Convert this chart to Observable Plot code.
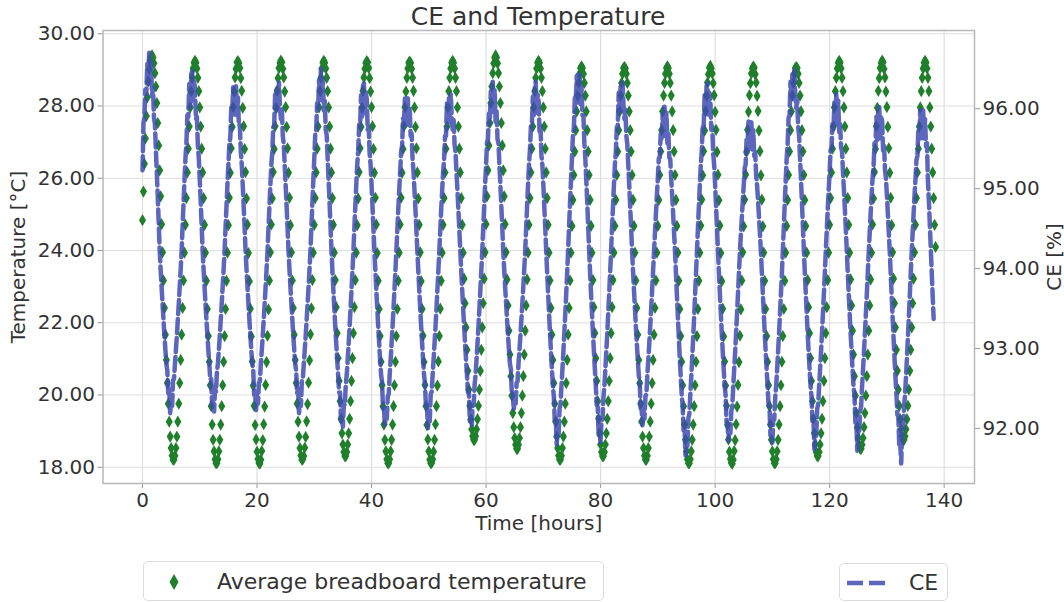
<!DOCTYPE html>
<html><head><meta charset="utf-8">
<script src="https://cdn.jsdelivr.net/npm/d3@7"></script>
<script src="https://cdn.jsdelivr.net/npm/@observablehq/plot@0.6"></script>
<style>
body{margin:0;background:#fff;font-family:"DejaVu Sans",sans-serif;}
#wrap{position:relative;width:1064px;height:602px;overflow:hidden;}
#chart{position:absolute;left:0;top:0;}
#title{position:absolute;left:102px;width:872px;top:2px;text-align:center;font-size:25px;color:#333;line-height:30px;}
.legend{position:absolute;box-sizing:border-box;border:1px solid #dcdcdc;border-radius:5px;background:#fff;font-size:22px;color:#333;}
.legend span{position:absolute;top:50%;transform:translateY(-50%);white-space:nowrap;}
.legend svg{position:absolute;}
</style></head><body>
<div id="wrap">
  <div id="chart"></div>
  <div id="title">CE and Temperature</div>
  <div class="legend" id="leg1" style="left:143px;top:561px;width:461px;height:40px;">
    <svg width="14" height="20" style="left:23px;top:10px;"><polygon points="7,2 11.5,10 7,18 2.5,10" fill="#1f7f2a"/></svg>
    <span style="left:73px;">Average breadboard temperature</span>
  </div>
  <div class="legend" id="leg2" style="left:839px;top:563px;width:109px;height:38px;">
    <svg width="44" height="10" style="left:6px;top:14px;"><line x1="1" y1="5" x2="42" y2="5" stroke="#3f4bb0" stroke-opacity="0.85" stroke-width="4.5" stroke-dasharray="16,6"/></svg>
    <span style="left:69px;">CE</span>
  </div>
</div>
<script>
// ---- data (both series sampled every 10 minutes from t = 0) ----
const sampleMinutes = 10;
const temperature = [
// cycle 1
24.84,25.63,26.40,27.10,27.72,28.24,28.68,29.02,29.25,29.37,29.40,29.34,29.18,28.91,28.54,28.08,27.53,26.91,26.22,25.50,24.73,23.95,23.17,22.41,21.67,20.97,20.33,19.76,19.26,18.85,18.53,18.32,18.21,18.21,18.32,18.53,18.85,19.26,19.76,20.33,20.97,21.67,22.41,23.17,23.94,
// cycle 2
24.71,25.45,26.16,26.82,27.43,27.96,28.41,28.78,29.04,29.20,29.25,29.20,29.04,28.78,28.41,27.96,27.43,26.82,26.16,25.45,24.71,23.94,23.16,22.38,21.63,20.92,20.27,19.69,19.18,18.76,18.44,18.22,18.11,18.11,18.22,18.44,18.76,19.18,19.69,20.27,20.92,21.63,22.38,23.16,23.94,
// cycle 3
24.70,25.46,26.15,26.83,27.42,27.97,28.40,28.79,29.03,29.21,29.24,29.19,29.05,28.77,28.42,27.95,27.44,26.81,26.17,25.44,24.72,23.93,23.15,22.39,21.62,20.93,20.26,19.70,19.17,18.77,18.43,18.23,18.12,18.10,18.21,18.45,18.75,19.19,19.68,20.28,20.91,21.64,22.37,23.17,23.95,
// cycle 4
24.72,25.44,26.17,26.81,27.44,27.95,28.42,28.77,29.05,29.19,29.26,29.21,29.03,28.79,28.40,27.97,27.42,26.83,26.15,25.46,24.70,23.95,23.17,22.41,21.67,20.97,20.33,19.76,19.26,18.85,18.53,18.32,18.21,18.22,18.31,18.54,18.84,19.27,19.75,20.34,20.96,21.68,22.40,23.18,23.94,
// cycle 5
24.71,25.45,26.16,26.82,27.43,27.96,28.41,28.78,29.04,29.20,29.25,29.20,29.04,28.78,28.41,27.96,27.43,26.82,26.16,25.45,24.71,23.94,23.18,22.43,21.71,21.02,20.39,19.83,19.34,18.94,18.63,18.42,18.31,18.31,18.42,18.63,18.94,19.34,19.83,20.39,21.02,21.71,22.43,23.18,23.94,
// cycle 6
24.70,25.44,26.17,26.83,27.42,27.95,28.42,28.79,29.03,29.19,29.24,29.21,29.05,28.77,28.40,27.97,27.44,26.81,26.15,25.46,24.72,23.93,23.16,22.38,21.63,20.92,20.27,19.69,19.18,18.76,18.44,18.22,18.11,18.11,18.22,18.44,18.76,19.18,19.69,20.27,20.92,21.63,22.38,23.16,23.94,
// cycle 7
24.72,25.46,26.15,26.81,27.44,27.96,28.40,28.78,29.04,29.20,29.23,29.19,29.03,28.78,28.42,27.96,27.42,26.83,26.16,25.44,24.71,23.95,23.15,22.38,21.64,20.91,20.28,19.69,19.17,18.77,18.44,18.21,18.11,18.12,18.22,18.43,18.76,19.19,19.69,20.26,20.93,21.63,22.39,23.16,23.94,
// cycle 8
24.71,25.45,26.16,26.82,27.43,27.96,28.41,28.78,29.04,29.20,29.25,29.20,29.04,28.78,28.41,27.96,27.43,26.82,26.16,25.45,24.71,23.94,23.22,22.54,21.87,21.25,20.67,20.15,19.70,19.33,19.05,18.86,18.76,18.76,18.86,19.05,19.33,19.70,20.15,20.67,21.25,21.87,22.54,23.22,23.95,
// cycle 9
24.73,25.50,26.22,26.91,27.53,28.08,28.54,28.91,29.18,29.34,29.40,29.34,29.18,28.91,28.54,28.08,27.53,26.91,26.22,25.50,24.73,23.95,23.20,22.48,21.78,21.12,20.52,19.98,19.50,19.11,18.81,18.62,18.51,18.51,18.62,18.81,19.11,19.50,19.98,20.52,21.12,21.78,22.48,23.20,23.94,
// cycle 10
24.71,25.45,26.16,26.82,27.43,27.96,28.41,28.78,29.04,29.20,29.25,29.20,29.04,28.78,28.41,27.96,27.43,26.82,26.16,25.45,24.71,23.94,23.17,22.41,21.67,20.97,20.33,19.76,19.26,18.85,18.53,18.32,18.21,18.21,18.32,18.53,18.85,19.26,19.76,20.33,20.97,21.67,22.41,23.17,23.94,
// cycle 11
24.68,25.40,26.09,26.74,27.33,27.85,28.29,28.64,28.89,29.05,29.10,29.05,28.89,28.64,28.29,27.85,27.33,26.74,26.09,25.40,24.68,23.94,23.18,22.43,21.71,21.02,20.39,19.83,19.34,18.94,18.63,18.42,18.31,18.31,18.42,18.63,18.94,19.34,19.83,20.39,21.02,21.71,22.43,23.18,23.94,
// cycle 12
24.68,25.40,26.09,26.74,27.33,27.85,28.29,28.64,28.89,29.05,29.08,29.04,28.89,28.64,28.29,27.85,27.33,26.74,26.09,25.40,24.68,23.94,23.17,22.41,21.67,20.97,20.33,19.76,19.26,18.85,18.53,18.32,18.21,18.21,18.32,18.53,18.85,19.26,19.76,20.33,20.97,21.67,22.41,23.17,23.94,
// cycle 13
24.68,25.40,26.09,26.74,27.33,27.85,28.29,28.64,28.89,29.05,29.10,29.05,28.89,28.64,28.29,27.85,27.33,26.74,26.09,25.40,24.68,23.94,23.16,22.38,21.63,20.92,20.27,19.69,19.18,18.76,18.44,18.22,18.11,18.11,18.22,18.44,18.76,19.18,19.69,20.27,20.92,21.63,22.38,23.16,23.94,
// cycle 14
24.69,25.41,26.08,26.75,27.32,27.86,28.28,28.65,28.88,29.06,29.11,29.04,28.90,28.63,28.30,27.84,27.34,26.73,26.10,25.39,24.69,23.93,23.15,22.39,21.62,20.93,20.26,19.70,19.17,18.77,18.43,18.23,18.12,18.10,18.21,18.45,18.75,19.19,19.68,20.28,20.91,21.64,22.37,23.17,23.95,
// cycle 15
24.67,25.41,26.10,26.73,27.34,27.84,28.30,28.63,28.90,29.04,29.09,29.06,28.88,28.65,28.28,27.86,27.32,26.75,26.08,25.41,24.67,23.94,23.16,22.38,21.63,20.92,20.27,19.69,19.18,18.76,18.44,18.22,18.11,18.11,18.22,18.44,18.76,19.18,19.69,20.27,20.92,21.63,22.38,23.16,23.94,
// cycle 16
24.68,25.40,26.09,26.74,27.33,27.85,28.29,28.64,28.89,29.05,29.08,29.05,28.89,28.64,28.29,27.85,27.33,26.74,26.09,25.40,24.68,23.94,23.18,22.43,21.71,21.02,20.39,19.83,19.34,18.94,18.63,18.42,18.31,18.31,18.42,18.63,18.94,19.34,19.83,20.39,21.02,21.71,22.43,23.18,23.94,
// cycle 17
24.71,25.45,26.16,26.82,27.43,27.96,28.41,28.78,29.04,29.20,29.25,29.20,29.04,28.78,28.41,27.96,27.43,26.82,26.16,25.45,24.71,23.94,23.20,22.48,21.78,21.12,20.52,19.98,19.50,19.11,18.81,18.62,18.51,18.51,18.62,18.81,19.11,19.50,19.98,20.52,21.12,21.78,22.48,23.20,23.94,
// cycle 18
24.72,25.44,26.17,26.81,27.44,27.95,28.42,28.77,29.05,29.19,29.26,29.21,29.03,28.79,28.40,27.97,27.42,26.83,26.15,25.46,24.70,23.95,23.22,22.54,21.87,21.25,20.67,20.15,19.70,19.33,19.05,18.86,18.76,18.76,18.86,19.05,19.33,19.70,20.15,20.67,21.25,21.87,22.54,23.22,23.95,
// cycle 19 (partial)
24.71,25.45,26.16,26.82,27.43,27.96,28.41,28.78,29.04,29.20,29.25,29.20,29.04,28.78,28.41,27.96,27.43,26.82,26.16,25.45,24.71,24.10
];
const ce = [
// cycle 1
95.23,95.82,95.89,96.24,96.19,96.56,96.33,96.70,96.31,96.58,96.16,96.27,95.89,95.81,95.49,95.20,94.89,94.57,94.23,93.99,93.77,93.56,93.36,93.16,92.98,92.81,92.72,92.44,92.50,92.19,92.34,92.28,92.60,92.62,92.81,92.98,93.16,93.36,93.56,93.77,93.99,94.23,94.53,
// cycle 2
94.83,95.11,95.38,95.57,95.92,95.90,96.31,96.04,96.43,96.47,96.08,96.34,96.26,95.87,95.90,95.54,95.38,95.11,94.83,94.53,94.23,93.99,93.77,93.56,93.36,93.16,92.98,92.81,92.61,92.62,92.28,92.35,92.21,92.50,92.46,92.71,92.81,92.98,93.16,93.36,93.56,93.77,93.99,94.22,94.51,
// cycle 3
94.78,95.05,95.30,95.56,95.64,96.01,95.97,96.27,95.93,96.25,96.28,95.92,96.14,95.79,95.80,95.47,95.30,95.05,94.78,94.51,94.22,93.99,93.77,93.56,93.36,93.16,92.98,92.81,92.74,92.42,92.44,92.23,92.41,92.31,92.57,92.59,92.81,92.98,93.16,93.36,93.56,93.77,93.99,94.22,94.51,
// cycle 4
94.78,95.05,95.30,95.46,95.77,95.79,96.20,96.00,96.28,95.98,96.33,96.04,95.87,95.99,95.66,95.56,95.30,95.05,94.78,94.51,94.22,93.99,93.77,93.56,93.36,93.16,92.98,92.81,92.72,92.44,92.50,92.19,92.34,92.28,92.60,92.62,92.81,92.98,93.16,93.36,93.56,93.77,93.99,94.23,94.53,
// cycle 5
94.83,95.11,95.38,95.68,95.74,96.07,96.01,96.36,96.13,96.50,96.11,96.38,95.98,96.10,95.74,95.67,95.38,95.11,94.83,94.53,94.23,93.97,93.73,93.50,93.27,93.06,92.86,92.67,92.45,92.45,92.09,92.16,92.02,92.31,92.29,92.55,92.67,92.86,93.06,93.27,93.50,93.73,93.97,94.22,94.51,
// cycle 6
94.78,95.05,95.30,95.47,95.80,95.77,96.17,95.90,96.28,96.32,95.93,96.20,96.12,95.74,95.78,95.44,95.30,95.05,94.78,94.51,94.22,93.97,93.73,93.50,93.27,93.06,92.86,92.67,92.58,92.25,92.25,92.04,92.22,92.12,92.40,92.43,92.67,92.86,93.06,93.27,93.50,93.73,93.97,94.22,94.48,
// cycle 7
94.74,94.98,95.21,95.46,95.53,95.88,95.84,96.13,95.78,96.10,96.13,95.78,96.01,95.66,95.69,95.37,95.21,94.98,94.74,94.48,94.22,93.97,93.73,93.50,93.27,93.06,92.86,92.67,92.56,92.27,92.31,92.00,92.15,92.09,92.43,92.46,92.67,92.86,93.06,93.27,93.50,93.73,93.97,94.22,94.48,
// cycle 8
94.74,94.98,95.21,95.36,95.66,95.66,96.07,95.86,96.13,95.83,96.18,95.90,95.74,95.86,95.55,95.46,95.21,94.98,94.74,94.48,94.22,93.97,93.73,93.50,93.27,93.06,92.86,92.67,92.45,92.45,92.09,92.16,92.02,92.31,92.29,92.55,92.67,92.86,93.06,93.27,93.50,93.73,93.97,94.22,94.51,
// cycle 9
94.78,95.05,95.30,95.58,95.62,95.94,95.87,96.22,95.98,96.35,95.96,96.24,95.84,95.97,95.62,95.57,95.30,95.05,94.78,94.51,94.22,93.99,93.77,93.56,93.36,93.16,92.98,92.81,92.74,92.42,92.44,92.23,92.41,92.31,92.57,92.59,92.81,92.98,93.16,93.36,93.56,93.77,93.99,94.22,94.51,
// cycle 10
94.78,95.05,95.30,95.49,95.78,95.79,96.15,95.92,96.26,96.34,95.95,96.18,96.14,95.72,95.80,95.42,95.30,95.05,94.78,94.51,94.22,93.95,93.69,93.44,93.19,92.96,92.74,92.53,92.40,92.09,92.13,91.80,91.95,91.91,92.25,92.30,92.53,92.74,92.96,93.19,93.44,93.69,93.95,94.23,94.53,
// cycle 11
94.83,95.11,95.38,95.66,95.76,96.14,96.11,96.41,96.08,96.40,96.43,96.06,96.28,95.92,95.92,95.57,95.38,95.11,94.83,94.53,94.23,93.95,93.69,93.44,93.19,92.96,92.74,92.53,92.29,92.27,91.91,91.96,91.82,92.13,92.11,92.39,92.53,92.74,92.96,93.19,93.44,93.69,93.95,94.22,94.51,
// cycle 12
94.78,95.05,95.30,95.46,95.77,95.79,96.20,96.00,96.28,95.98,96.33,96.04,95.87,95.99,95.66,95.56,95.30,95.05,94.78,94.51,94.22,93.97,93.73,93.50,93.27,93.06,92.86,92.67,92.58,92.25,92.25,92.04,92.22,92.12,92.40,92.43,92.67,92.86,93.06,93.27,93.50,93.73,93.97,94.21,94.45,
// cycle 13
94.69,94.92,95.13,95.38,95.39,95.68,95.60,95.93,95.68,96.05,95.66,95.95,95.57,95.71,95.39,95.37,95.13,94.92,94.69,94.45,94.21,93.94,93.66,93.39,93.13,92.88,92.64,92.42,92.28,91.97,91.99,91.66,91.81,91.77,92.13,92.18,92.42,92.64,92.88,93.13,93.39,93.66,93.94,94.22,94.51,
// cycle 14
94.78,95.05,95.30,95.47,95.80,95.77,96.17,95.90,96.28,96.32,95.93,96.20,96.12,95.74,95.78,95.44,95.30,95.05,94.78,94.51,94.22,93.95,93.69,93.44,93.19,92.96,92.74,92.53,92.42,92.07,92.07,91.84,92.02,91.94,92.22,92.27,92.53,92.74,92.96,93.19,93.44,93.69,93.95,94.21,94.43,
// cycle 15
94.64,94.85,95.04,95.26,95.30,95.63,95.56,95.84,95.48,95.80,95.83,95.49,95.73,95.41,95.46,95.17,95.04,94.85,94.64,94.43,94.21,93.95,93.69,93.44,93.19,92.96,92.74,92.53,92.29,92.27,91.91,91.96,91.82,92.13,92.11,92.39,92.53,92.74,92.96,93.19,93.44,93.69,93.95,94.23,94.53,
// cycle 16
94.83,95.11,95.38,95.56,95.89,95.92,96.34,96.14,96.43,96.13,96.48,96.18,96.01,96.12,95.78,95.66,95.38,95.11,94.83,94.53,94.23,93.95,93.69,93.44,93.19,92.96,92.74,92.53,92.40,92.09,92.13,91.74,91.88,91.91,92.25,92.30,92.53,92.74,92.96,93.19,93.44,93.69,93.95,94.22,94.48,
// cycle 17
94.74,94.98,95.21,95.48,95.51,95.81,95.74,96.08,95.83,96.20,95.81,96.10,95.71,95.84,95.51,95.47,95.21,94.98,94.74,94.48,94.22,93.95,93.69,93.44,93.19,92.96,92.74,92.53,92.42,92.07,92.07,91.72,92.02,91.94,92.22,92.27,92.53,92.74,92.96,93.19,93.44,93.69,93.95,94.21,94.45,
// cycle 18
94.69,94.92,95.13,95.27,95.57,95.51,95.90,95.61,95.98,96.02,95.63,95.91,95.85,95.48,95.55,95.24,95.13,94.92,94.69,94.45,94.21,93.94,93.66,93.39,93.13,92.88,92.64,92.42,92.17,92.15,91.77,91.82,91.56,91.99,91.99,92.27,92.42,92.64,92.88,93.13,93.39,93.66,93.94,94.21,94.45,
// cycle 19 (partial)
94.69,94.92,95.13,95.36,95.41,95.75,95.70,95.98,95.63,95.95,95.98,95.63,95.87,95.53,95.57,95.10,94.85,94.55,94.25,93.95,93.65,93.37
];
const xTicks = [0, 20, 40, 60, 80, 100, 120, 140];
const tempTicks = [18, 20, 22, 24, 26, 28, 30];
const ceTicks = [92, 93, 94, 95, 96];
const xDomain = [-6.9, 145.3];
const tempDomain = [17.55, 30.09];
const ceDomain = [91.31, 96.98];

// ---- build ----
const toTemp = c => tempDomain[0] + (c - ceDomain[0]) * (tempDomain[1] - tempDomain[0]) / (ceDomain[1] - ceDomain[0]);
const fromTemp = v => ceDomain[0] + (v - tempDomain[0]) * (ceDomain[1] - ceDomain[0]) / (tempDomain[1] - tempDomain[0]);
const tempRows = temperature.map((v, i) => ({time: i * sampleMinutes / 60, temp: v}));
const ceRows = ce.map((v, i) => ({time: i * sampleMinutes / 60, ce: v}));

const chart = Plot.plot({
  width: 1064, height: 545,
  marginLeft: 102.5, marginRight: 90, marginTop: 30, marginBottom: 62,
  style: {fontFamily: "DejaVu Sans, sans-serif", fontSize: "20px", color: "#333", background: "transparent"},
  x: {domain: xDomain},
  y: {domain: tempDomain},
  marks: [
    Plot.gridX(xTicks, {stroke: "#dedede", strokeOpacity: 1, strokeWidth: 1.2}),
    Plot.gridY(tempTicks, {stroke: "#dedede", strokeOpacity: 1, strokeWidth: 1.2}),
    Plot.axisX(xTicks, {tickSize: 5, stroke: "#999", fill: "#333", tickPadding: 4,
      label: "Time [hours]", labelAnchor: "center", labelArrow: "none", labelOffset: 46}),
    Plot.axisY(tempTicks, {anchor: "left", tickSize: 5, stroke: "#999", fill: "#333", tickPadding: 3,
      tickFormat: d => d.toFixed(2),
      label: "Temperature [°C]", labelAnchor: "center", labelArrow: "none", labelOffset: 92}),
    Plot.axisY(ceTicks.map(toTemp), {anchor: "right", tickSize: 5, stroke: "#999", fill: "#333", tickPadding: 3,
      tickFormat: d => fromTemp(d).toFixed(2),
      label: "CE [%]", labelAnchor: "center", labelArrow: "none", labelOffset: 86}),
    Plot.dot(tempRows, {x: "time", y: "temp", symbol: "diamond", r: 3.7, fill: "#1f7f2a", stroke: "none"}),
    Plot.line(ceRows, {x: "time", y: d => toTemp(d.ce), stroke: "#3f4bb0", strokeOpacity: 0.85,
      strokeWidth: 4.5, strokeDasharray: "14,5", strokeLinejoin: "round"}),
    Plot.frame({stroke: "#b8b8b8", strokeWidth: 1.5})
  ]
});
document.getElementById("chart").appendChild(chart);
</script>
</body></html>
